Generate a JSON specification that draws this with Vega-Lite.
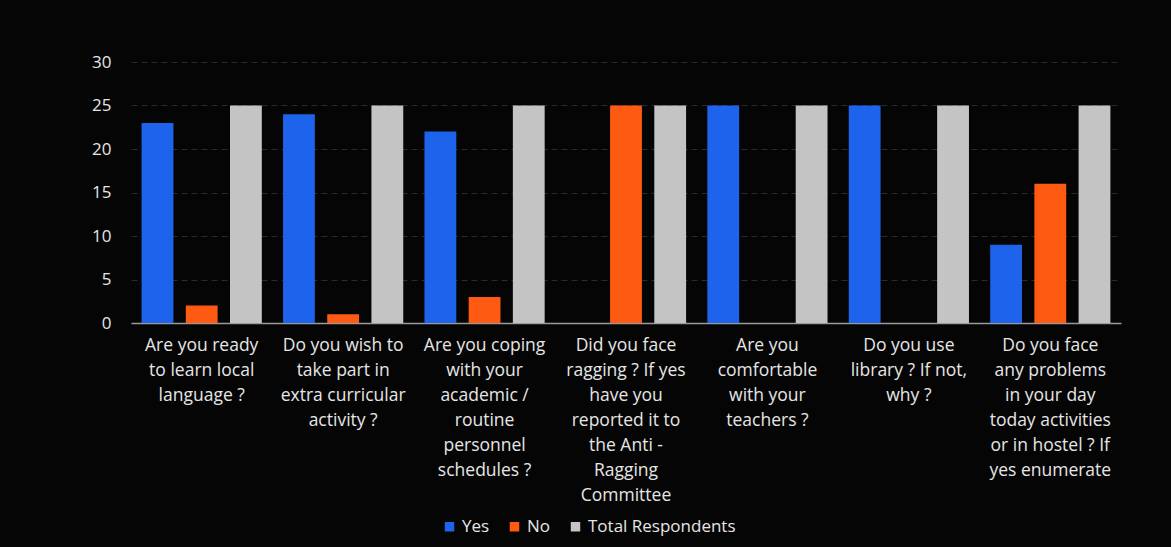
{
  "$schema": "https://vega.github.io/schema/vega-lite/v6.json",
  "autosize": "none",
  "width": 990,
  "height": 261,
  "padding": {"left": 131, "top": 62, "right": 50, "bottom": 224},
  "background": "#050505",
  "data": {
    "values": [
      {"q": "Are you ready|to learn local|language ?", "o": 1, "series": "Yes", "value": 23},
      {"q": "Are you ready|to learn local|language ?", "o": 1, "series": "No", "value": 2},
      {"q": "Are you ready|to learn local|language ?", "o": 1, "series": "Total Respondents", "value": 25},
      {"q": "Do you wish to|take part in|extra curricular|activity ?", "o": 2, "series": "Yes", "value": 24},
      {"q": "Do you wish to|take part in|extra curricular|activity ?", "o": 2, "series": "No", "value": 1},
      {"q": "Do you wish to|take part in|extra curricular|activity ?", "o": 2, "series": "Total Respondents", "value": 25},
      {"q": "Are you coping|with your|academic /|routine|personnel|schedules ?", "o": 3, "series": "Yes", "value": 22},
      {"q": "Are you coping|with your|academic /|routine|personnel|schedules ?", "o": 3, "series": "No", "value": 3},
      {"q": "Are you coping|with your|academic /|routine|personnel|schedules ?", "o": 3, "series": "Total Respondents", "value": 25},
      {"q": "Did you face|ragging ? If yes|have you|reported it to|the Anti -|Ragging|Committee", "o": 4, "series": "Yes", "value": 0},
      {"q": "Did you face|ragging ? If yes|have you|reported it to|the Anti -|Ragging|Committee", "o": 4, "series": "No", "value": 25},
      {"q": "Did you face|ragging ? If yes|have you|reported it to|the Anti -|Ragging|Committee", "o": 4, "series": "Total Respondents", "value": 25},
      {"q": "Are you|comfortable|with your|teachers ?", "o": 5, "series": "Yes", "value": 25},
      {"q": "Are you|comfortable|with your|teachers ?", "o": 5, "series": "No", "value": 0},
      {"q": "Are you|comfortable|with your|teachers ?", "o": 5, "series": "Total Respondents", "value": 25},
      {"q": "Do you use|library ? If not,|why ?", "o": 6, "series": "Yes", "value": 25},
      {"q": "Do you use|library ? If not,|why ?", "o": 6, "series": "No", "value": 0},
      {"q": "Do you use|library ? If not,|why ?", "o": 6, "series": "Total Respondents", "value": 25},
      {"q": "Do you face|any problems|in your day|today activities|or in hostel ? If|yes enumerate", "o": 7, "series": "Yes", "value": 9},
      {"q": "Do you face|any problems|in your day|today activities|or in hostel ? If|yes enumerate", "o": 7, "series": "No", "value": 16},
      {"q": "Do you face|any problems|in your day|today activities|or in hostel ? If|yes enumerate", "o": 7, "series": "Total Respondents", "value": 25}
    ]
  },
  "mark": {"type": "bar"},
  "encoding": {
    "x": {
      "field": "q",
      "type": "nominal",
      "sort": {"field": "o"},
      "scale": {"paddingInner": 0.15, "paddingOuter": 0.075},
      "axis": {
        "title": null,
        "labelAngle": 0,
        "labelExpr": "split(datum.label, '|')",
        "labelColor": "#e6e6e6",
        "labelFont": "Open Sans",
        "labelFontSize": 17.5,
        "labelLineHeight": 25,
        "labelPadding": 13,
        "labelLimit": 200,
        "ticks": false,
        "domainColor": "#9a9a9a",
        "domainWidth": 1.5
      }
    },
    "xOffset": {
      "field": "series",
      "type": "nominal",
      "sort": ["Yes", "No", "Total Respondents"],
      "scale": {"paddingInner": 0.28}
    },
    "y": {
      "field": "value",
      "type": "quantitative",
      "scale": {"domain": [0, 30]},
      "axis": {
        "title": null,
        "values": [0, 5, 10, 15, 20, 25, 30],
        "labelColor": "#e6e6e6",
        "labelFont": "Open Sans",
        "labelFontSize": 17,
        "labelPadding": 20,
        "ticks": false,
        "domain": false,
        "gridColor": "#2a2a2a",
        "gridDash": [6, 4]
      }
    },
    "color": {
      "field": "series",
      "type": "nominal",
      "sort": ["Yes", "No", "Total Respondents"],
      "scale": {"domain": ["Yes", "No", "Total Respondents"], "range": ["#1d63ec", "#ff5a12", "#c4c4c4"]},
      "legend": {
        "title": null,
        "orient": "none",
        "direction": "horizontal",
        "legendX": 310,
        "legendY": 456,
        "symbolType": "square",
        "symbolSize": 90,
        "symbolStrokeWidth": 0,
        "labelColor": "#e6e6e6",
        "labelFont": "Open Sans",
        "labelFontSize": 17,
        "columnPadding": 16
      }
    }
  },
  "config": {"view": {"stroke": null}}
}
